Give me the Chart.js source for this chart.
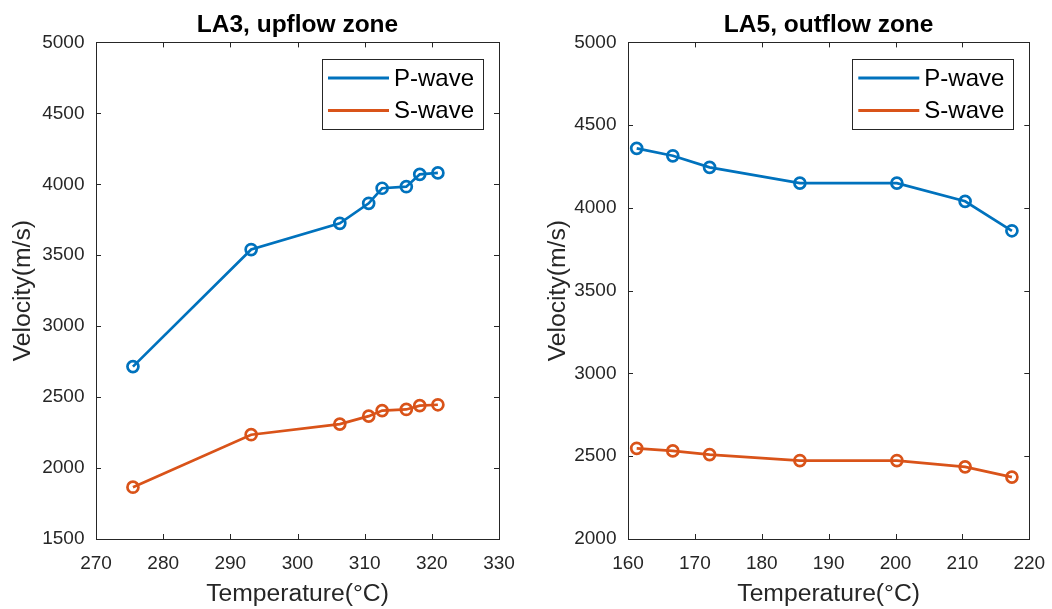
<!DOCTYPE html>
<html lang="en">
<head>
    <meta charset="UTF-8">
    <title>Velocity vs Temperature</title>
    <style>
        body {
            margin: 0;
            background-color: white;
        }
        .panel {
            position: absolute;
            top: 0;
            width: 526px;
            height: 609px;
        }
        #leftPanel { left: 0; }
        #rightPanel { left: 526px; }
    </style>
    <script src="https://cdn.jsdelivr.net/npm/chart.js"></script>
</head>
<body>
    <div class="panel" id="leftPanel"><canvas id="leftChart"></canvas></div>
    <div class="panel" id="rightPanel"><canvas id="rightChart"></canvas></div>

    <script>
        // LA3 (upflow zone)
        const la3Temps = [275.5, 293.1, 306.3, 310.6, 312.6, 316.2, 318.2, 320.9];
        const la3P = [2715, 3540, 3725, 3866, 3972, 3983, 4070, 4080];
        const la3S = [1865, 2235, 2310, 2366, 2405, 2413, 2440, 2446];
        const la3XTicks = [270, 280, 290, 300, 310, 320, 330];
        const la3YTicks = [1500, 2000, 2500, 3000, 3500, 4000, 4500, 5000];

        // LA5 (outflow zone)
        const la5Temps = [161.3, 166.7, 172.2, 185.7, 200.2, 210.4, 217.4];
        const la5P = [4360, 4315, 4245, 4150, 4150, 4040, 3862];
        const la5S = [2548, 2532, 2510, 2474, 2474, 2436, 2374];
        const la5XTicks = [160, 170, 180, 190, 200, 210, 220];
        const la5YTicks = [2000, 2500, 3000, 3500, 4000, 4500, 5000];

        const seriesNames = ['P-wave', 'S-wave'];
        const seriesColors = ['#0072BD', '#D95319'];

        const FONT = "'Liberation Sans', Arial, sans-serif";
        const AXIS_COLOR = '#262626';

        // box around the plot area with inward ticks on all four sides
        const axesBox = {
            id: 'axesBox',
            afterDatasetsDraw(chart) {
                const { ctx, chartArea: a, scales: { x, y } } = chart;
                const len = 5;
                ctx.save();
                ctx.strokeStyle = AXIS_COLOR;
                ctx.lineWidth = 1;
                ctx.strokeRect(Math.round(a.left) + 0.5, Math.round(a.top) + 0.5,
                    Math.round(a.width), Math.round(a.height));
                ctx.beginPath();
                x.ticks.forEach(t => {
                    const px = Math.round(x.getPixelForValue(t.value)) + 0.5;
                    ctx.moveTo(px, a.bottom); ctx.lineTo(px, a.bottom - len);
                    ctx.moveTo(px, a.top); ctx.lineTo(px, a.top + len);
                });
                y.ticks.forEach(t => {
                    const py = Math.round(y.getPixelForValue(t.value)) + 0.5;
                    ctx.moveTo(a.left, py); ctx.lineTo(a.left + len, py);
                    ctx.moveTo(a.right, py); ctx.lineTo(a.right - len, py);
                });
                ctx.stroke();
                ctx.restore();
            }
        };

        // legend box in the upper right corner of the plot area
        const boxLegend = {
            id: 'boxLegend',
            afterDraw(chart) {
                const { ctx, chartArea: a } = chart;
                const w = 161, h = 70;
                const left = a.right - 16 - w;
                const top = a.top + 16.5;
                ctx.save();
                ctx.fillStyle = 'white';
                ctx.fillRect(left, top, w, h);
                ctx.strokeStyle = AXIS_COLOR;
                ctx.lineWidth = 1;
                ctx.strokeRect(Math.round(left) + 0.5, Math.round(top) + 0.5, w, h);
                ctx.font = '24px ' + FONT;
                ctx.textBaseline = 'middle';
                ctx.fillStyle = '#000';
                chart.data.datasets.forEach((ds, i) => {
                    const rowY = top + 19 + i * 32.5;
                    ctx.strokeStyle = ds.borderColor;
                    ctx.lineWidth = 3;
                    ctx.beginPath();
                    ctx.moveTo(left + 6, rowY);
                    ctx.lineTo(left + 67, rowY);
                    ctx.stroke();
                    ctx.fillText(ds.label, left + 72, rowY + 1);
                });
                ctx.restore();
            }
        };

        function makeChart(id, title, temps, pVals, sVals, xTicks, yTicks, yAxisWidth, yTitlePad, rightPad) {
            const datasets = [pVals, sVals].map((vals, i) => ({
                label: seriesNames[i],
                data: temps.map((t, k) => ({ x: t, y: vals[k] })),
                borderColor: seriesColors[i],
                backgroundColor: 'transparent',
                borderWidth: 2.7,
                pointRadius: 5.5,
                pointBorderWidth: 2.7,
                pointStyle: 'circle',
                tension: 0
            }));

            return new Chart(document.getElementById(id), {
                type: 'line',
                data: { datasets },
                options: {
                    responsive: true,
                    maintainAspectRatio: false,
                    animation: false,
                    layout: { padding: { left: 0, right: rightPad, top: 0, bottom: 0 } },
                    plugins: {
                        legend: { display: false },
                        tooltip: { enabled: false },
                        title: {
                            display: true,
                            fullSize: false,
                            text: title,
                            color: '#000',
                            font: { family: FONT, size: 24.5, weight: 'bold' },
                            padding: { top: 11, bottom: 2 }
                        }
                    },
                    scales: {
                        x: {
                            type: 'linear',
                            min: xTicks[0],
                            max: xTicks[xTicks.length - 1],
                            afterBuildTicks: s => { s.ticks = xTicks.map(v => ({ value: v })); },
                            afterFit: s => { s.height = 70; },
                            grid: { display: false },
                            border: { display: false },
                            ticks: {
                                color: AXIS_COLOR,
                                font: { family: FONT, size: 19 },
                                padding: 5,
                                maxRotation: 0,
                                callback: v => String(v)
                            },
                            title: {
                                display: true,
                                text: 'Temperature(°C)',
                                color: AXIS_COLOR,
                                font: { family: FONT, size: 24.7 },
                                padding: { top: 0, bottom: 0 }
                            }
                        },
                        y: {
                            type: 'linear',
                            min: yTicks[0],
                            max: yTicks[yTicks.length - 1],
                            afterBuildTicks: s => { s.ticks = yTicks.map(v => ({ value: v })); },
                            afterFit: s => { s.width = yAxisWidth; },
                            grid: { display: false },
                            border: { display: false },
                            ticks: {
                                color: AXIS_COLOR,
                                font: { family: FONT, size: 19 },
                                padding: 3.5,
                                callback: v => String(v)
                            },
                            title: {
                                display: true,
                                text: 'Velocity(m/s)',
                                color: AXIS_COLOR,
                                font: { family: FONT, size: 24.7 },
                                padding: { top: yTitlePad, bottom: 0 }
                            }
                        }
                    }
                },
                plugins: [axesBox, boxLegend]
            });
        }

        makeChart('leftChart', 'LA3, upflow zone', la3Temps, la3P, la3S, la3XTicks, la3YTicks, 96, 8, 27);
        makeChart('rightChart', 'LA5, outflow zone', la5Temps, la5P, la5S, la5XTicks, la5YTicks, 102, 17, 22.7);
    </script>
</body>
</html>
